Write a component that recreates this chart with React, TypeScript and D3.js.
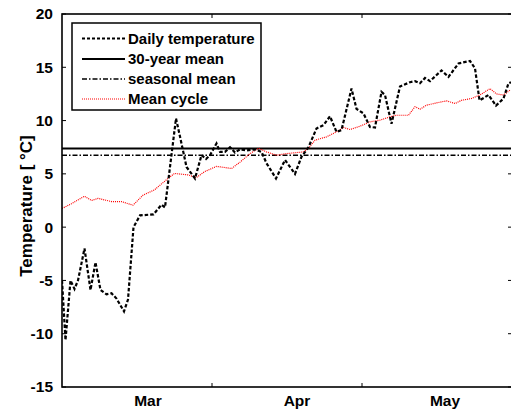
import React from "react";
import * as d3 from "d3";

const dailyDays = [0, 0.7, 1.7, 2.5, 3.2, 4.5, 5.7, 6.7, 7.7, 8.9, 9.9, 10.9, 12.4, 13.2, 14.3, 15.6, 18.3, 19.9, 20.6, 21.6, 22.8, 23.6, 24.9, 26.6, 27.9, 28.8, 29.6, 30.9, 31.6, 32.6, 33.6, 34.6, 35.6, 36.9, 38.6, 39.9, 40.9, 42.8, 44.6, 46.6, 47.9, 49.3, 50.9, 52.3, 53.6, 54.9, 55.9, 57.9, 58.9, 60.3, 61.6, 62.6, 63.9, 64.6, 65.9, 67.6, 69.6, 70.6, 71.6, 72.6, 73.6, 75.9, 77.3, 79.3, 81.6, 82.6, 83.5, 83.9, 85.3, 86.8, 88.3, 89.3, 89.8];
const dailyTemp = [-5.0, -10.6, -5.0, -5.8, -5.0, -2.0, -5.9, -3.3, -5.9, -6.3, -6.2, -6.7, -7.9, -6.8, 0.0, 1.1, 1.2, 2.1, 1.85, 5.65, 10.2, 8.5, 5.65, 4.57, 6.75, 6.4, 6.75, 7.85, 7.06, 7.06, 7.5, 7.0, 7.3, 7.2, 7.3, 7.06, 6.0, 4.57, 6.3, 5.0, 6.6, 7.5, 9.26, 9.57, 10.4, 8.94, 9.1, 13.0, 11.1, 10.67, 9.4, 9.35, 12.7, 12.4, 9.7, 13.2, 13.6, 13.7, 13.5, 14.0, 13.7, 14.7, 14.1, 15.36, 15.6, 14.9, 11.9, 12.0, 12.4, 11.4, 12.07, 13.5, 13.6];

const cycleDays = [0, 1.9, 4.5, 5.9, 7.2, 9.9, 11.9, 14.2, 16.2, 18.5, 21.2, 22.5, 25.2, 26.9, 28.5, 30.9, 31.6, 33.9, 35.6, 37.6, 39.3, 40.9, 42.9, 44.9, 48.3, 49.3, 50.6, 52.9, 54.9, 56.3, 57.6, 59.6, 61.6, 63.6, 65.6, 66.9, 69.3, 70.6, 71.6, 72.9, 74.9, 76.9, 78.6, 79.9, 81.9, 83.6, 85.6, 86.9, 88.3, 89.6];
const cycleTemp = [1.75, 2.2, 2.9, 2.5, 2.7, 2.4, 2.4, 2.06, 3.0, 3.5, 4.57, 5.04, 4.9, 4.66, 5.2, 5.7, 5.66, 5.5, 6.1, 6.9, 7.4, 7.06, 6.75, 6.9, 7.06, 7.4, 8.16, 8.47, 8.94, 9.35, 9.16, 9.47, 9.88, 10.04, 10.35, 10.5, 10.5, 11.3, 11.07, 11.44, 11.66, 11.85, 11.6, 11.9, 12.07, 12.4, 13.0, 12.5, 12.4, 12.85];

const mean30 = 7.38;
const seasonalMean = 6.75;

const yTicks = [-15, -10, -5, 0, 5, 10, 15, 20];
const xTicks = [30, 60, 90];
const monthLabels = ["Mar", "Apr", "May"];
const monthPos = [17.2, 47, 76.6];

const legendLabels = ["Daily temperature", "30-year mean", "seasonal mean", "Mean cycle"];

export default function App() {
  const W = 511, H = 409;
  const left = 62, right = 512, top = 14, bottom = 387;
  const x = d3.scaleLinear().domain([0, 90]).range([left, right]);
  const y = d3.scaleLinear().domain([-15, 20]).range([bottom, top]);
  const line = d3.line<[number, number]>().x(d => x(d[0])).y(d => y(d[1]));
  const daily = line(dailyDays.map((d, i) => [d, dailyTemp[i]] as [number, number]));
  const cycle = line(cycleDays.map((d, i) => [d, cycleTemp[i]] as [number, number]));
  const font = "'Liberation Sans', Arial, Helvetica, sans-serif";
  const styles = [
    { stroke: "#000", dash: "3,2", w: 2 },
    { stroke: "#000", dash: "none", w: 1.8 },
    { stroke: "#000", dash: "5,2,1.5,2", w: 1.6 },
    { stroke: "#ff0000", dash: "1,1", w: 1.2 },
  ];
  const legX = 72, legY = 23, legW = 189, legH = 87;
  const rowY = [38.5, 59, 79, 99];
  return (
    <svg width={W} height={H} style={{ position: "absolute", left: 0, top: 0, background: "#fff" }} fontFamily={font}>
      <rect x={0} y={0} width={W} height={H} fill="#fff" />
      <defs>
        <clipPath id="clip"><rect x={left} y={top} width={right - left} height={bottom - top} /></clipPath>
      </defs>
      <g clipPath="url(#clip)">
        <line x1={left} x2={right} y1={y(mean30)} y2={y(mean30)} stroke="#000" strokeWidth={1.8} />
        <line x1={left} x2={right} y1={y(seasonalMean)} y2={y(seasonalMean)} stroke="#000" strokeWidth={1.6} strokeDasharray="5,2,1.5,2" />
        <path d={cycle ?? ""} fill="none" stroke="#ff0000" strokeWidth={1.2} strokeDasharray="1,1" />
        <path d={daily ?? ""} fill="none" stroke="#000" strokeWidth={2.2} strokeDasharray="3.5,2" />
      </g>
      <rect x={left} y={top} width={right - left} height={bottom - top} fill="none" stroke="#000" strokeWidth={1.6} />
      {yTicks.map(t => (
        <g key={t}>
          <line x1={left} x2={left + 4} y1={y(t)} y2={y(t)} stroke="#000" strokeWidth={1} />
          <line x1={right - 4} x2={right} y1={y(t)} y2={y(t)} stroke="#000" strokeWidth={1} />
          <text x={left - 9} y={y(t)} dy="0.35em" textAnchor="end" fontSize={15.5} fontWeight="bold">{t}</text>
        </g>
      ))}
      {xTicks.map(t => (
        <g key={t}>
          <line x1={x(t)} x2={x(t)} y1={bottom} y2={bottom - 4} stroke="#000" strokeWidth={1} />
          <line x1={x(t)} x2={x(t)} y1={top} y2={top + 4} stroke="#000" strokeWidth={1} />
        </g>
      ))}
      {monthLabels.map((m, i) => (
        <text key={m} x={x(monthPos[i])} y={405.5} textAnchor="middle" fontSize={15.5} fontWeight="bold">{m}</text>
      ))}
      <text transform={`translate(32,206) rotate(-90)`} textAnchor="middle" fontSize={17} fontWeight="bold">Temperature [ °C]</text>
      <rect x={legX} y={legY} width={legW} height={legH} fill="#fff" stroke="#000" strokeWidth={1.5} />
      {legendLabels.map((l, i) => (
        <g key={l}>
          <line x1={82} x2={125} y1={rowY[i]} y2={rowY[i]} stroke={styles[i].stroke} strokeWidth={styles[i].w} strokeDasharray={styles[i].dash} />
          <text x={128} y={rowY[i]} dy="0.35em" fontSize={15} fontWeight="bold">{l}</text>
        </g>
      ))}
    </svg>
  );
}
